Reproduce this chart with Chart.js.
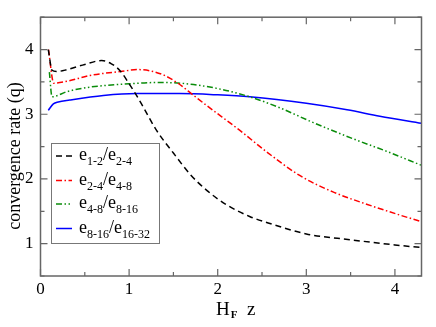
<!DOCTYPE html>
<html><head><meta charset="utf-8">
<script src="https://cdn.jsdelivr.net/npm/chart.js@4/dist/chart.umd.min.js"></script>
<style>html,body{margin:0;padding:0;background:#fff}canvas{display:block}</style>
</head><body>
<canvas id="c" width="436" height="327"></canvas>
<script>
const xTicks = [0, 1, 2, 3, 4];
const yTicks = [1, 2, 3, 4];
const xBlack = [0.088,0.13,0.18,0.3,0.5,0.69,0.8,0.9,1.01,1.08,1.16,1.31,1.5,1.69,1.88,2.1,2.36,2.57,3.0,3.5,4.0,4.3];
const yBlack = [4.0,3.68,3.66,3.69,3.77,3.83,3.78,3.67,3.45,3.30,3.11,2.75,2.40,2.07,1.82,1.60,1.42,1.32,1.15,1.06,0.98,0.94];
const xRed = [0.09,0.15,0.3,0.56,0.9,1.1,1.24,1.4,1.55,1.72,1.88,2.25,2.57,2.93,3.3,3.68,4.06,4.3];
const yRed = [4.0,3.48,3.51,3.60,3.66,3.69,3.67,3.60,3.48,3.30,3.13,2.75,2.40,2.05,1.80,1.61,1.44,1.34];
const xGreen = [0.1,0.13,0.3,0.56,1.0,1.3,1.58,1.99,2.36,2.7,3.08,3.53,3.92,4.3];
const yGreen = [3.65,3.27,3.35,3.42,3.47,3.49,3.48,3.40,3.27,3.10,2.87,2.62,2.42,2.21];
const xBlue = [0.088,0.145,0.2,0.33,0.71,1.09,1.57,2.0,2.36,3.0,3.46,3.83,4.3];
const yBlue = [3.06,3.16,3.19,3.22,3.29,3.32,3.32,3.30,3.27,3.17,3.07,2.97,2.86];
const legendSubs = [["1-2","2-4"],["2-4","4-8"],["4-8","8-16"],["8-16","16-32"]];

const pts = (xs, ys) => xs.map((x, i) => ({x, y: ys[i]}));
const SERIF = '"Liberation Serif", "DejaVu Serif", serif';

const series = [
  {data: pts(xBlack, yBlack), color: '#000000', dash: [6, 4]},
  {data: pts(xRed, yRed), color: '#ff0000', dash: [6, 2.5, 1.5, 2.5]},
  {data: pts(xGreen, yGreen), color: '#0a8c0a', dash: [6, 2.5, 1.5, 2.5, 1.5, 2.5]},
  {data: pts(xBlue, yBlue), color: '#0000ff', dash: []}
];

const framePlugin = {
  id: 'frame',
  afterDraw(chart) {
    const ctx = chart.ctx, a = chart.chartArea;
    const xs = chart.scales.x, ys = chart.scales.y;
    ctx.save();
    ctx.strokeStyle = '#666';
    ctx.lineWidth = 1.5;
    ctx.setLineDash([]);
    ctx.strokeRect(a.left, a.top, a.right - a.left, a.bottom - a.top);
    ctx.lineWidth = 1.2;
    ctx.beginPath();
    for (let v = 0; v <= 4.3; v += 0.5) {
      const p = xs.getPixelForValue(v);
      const L = Number.isInteger(v) ? 7 : 4;
      ctx.moveTo(p, a.bottom); ctx.lineTo(p, a.bottom - L);
      ctx.moveTo(p, a.top); ctx.lineTo(p, a.top + L);
    }
    for (let v = 0.5; v <= 4.5; v += 0.5) {
      const p = ys.getPixelForValue(v);
      const L = Number.isInteger(v) ? 7 : 4;
      ctx.moveTo(a.left, p); ctx.lineTo(a.left + L, p);
      ctx.moveTo(a.right, p); ctx.lineTo(a.right - L, p);
    }
    ctx.stroke();

    // axis titles
    ctx.fillStyle = '#000';
    ctx.font = '18px ' + SERIF;
    ctx.textAlign = 'center';
    ctx.textBaseline = 'middle';
    ctx.save();
    ctx.translate(15, 156);
    ctx.rotate(-Math.PI / 2);
    ctx.fillText('convergence rate (q)', 0, 0);
    ctx.restore();

    ctx.textAlign = 'left';
    ctx.textBaseline = 'alphabetic';
    ctx.font = '19px ' + SERIF;
    let x0 = 216;
    ctx.fillText('H', x0, 315);
    x0 += ctx.measureText('H').width;
    ctx.font = 'bold 11px ' + SERIF;
    ctx.fillText('F', x0 + 1, 318);
    x0 += ctx.measureText('F').width + 1;
    ctx.font = '19px ' + SERIF;
    ctx.fillText('  z', x0, 315);

    // legend
    ctx.fillStyle = '#fff';
    ctx.fillRect(51, 143, 108, 100);
    ctx.strokeStyle = '#777';
    ctx.lineWidth = 1;
    ctx.strokeRect(51.5, 143.5, 108, 100);
    const rowY = [156, 180.5, 204, 228.5];
    series.forEach((s, i) => {
      const y = rowY[i];
      ctx.strokeStyle = s.color;
      ctx.lineWidth = 1.5;
      ctx.setLineDash(s.dash);
      ctx.beginPath();
      ctx.moveTo(56, y); ctx.lineTo(72, y);
      ctx.stroke();
      ctx.setLineDash([]);
      ctx.fillStyle = '#000';
      let x = 79;
      const base = y + 4;
      ctx.font = '18px ' + SERIF;
      ctx.fillText('e', x, base); x += ctx.measureText('e').width;
      ctx.font = '12px ' + SERIF;
      ctx.fillText(legendSubs[i][0], x, base + 5); x += ctx.measureText(legendSubs[i][0]).width;
      ctx.font = '18px ' + SERIF;
      ctx.fillText('/e', x, base); x += ctx.measureText('/e').width;
      ctx.font = '12px ' + SERIF;
      ctx.fillText(legendSubs[i][1], x, base + 5);
    });
    ctx.restore();
  }
};

new Chart(document.getElementById('c'), {
  type: 'line',
  data: {
    datasets: series.map(s => ({
      data: s.data,
      borderColor: s.color,
      borderDash: s.dash,
      borderWidth: 1.5,
      pointRadius: 0,
      fill: false,
      cubicInterpolationMode: 'monotone'
    }))
  },
  options: {
    responsive: false,
    animation: false,
    events: [],
    layout: {padding: {left: 0, top: 10, right: 14.5, bottom: 0}},
    plugins: {legend: {display: false}, tooltip: {enabled: false}},
    scales: {
      x: {
        type: 'linear', min: 0, max: 4.3,
        afterBuildTicks: s => { s.ticks = xTicks.map(v => ({value: v})); },
        afterFit: s => { s.height = 51; },
        grid: {display: false, drawTicks: false},
        border: {display: false},
        ticks: {font: {family: SERIF, size: 17}, color: '#000', padding: 3, maxRotation: 0}
      },
      y: {
        type: 'linear', min: 0.5, max: 4.5,
        afterBuildTicks: s => { s.ticks = yTicks.map(v => ({value: v})); },
        afterFit: s => { s.width = 40.5; },
        grid: {display: false, drawTicks: false},
        border: {display: false},
        ticks: {font: {family: SERIF, size: 17}, color: '#000', padding: 7}
      }
    }
  },
  plugins: [framePlugin]
});
</script>
</body></html>
